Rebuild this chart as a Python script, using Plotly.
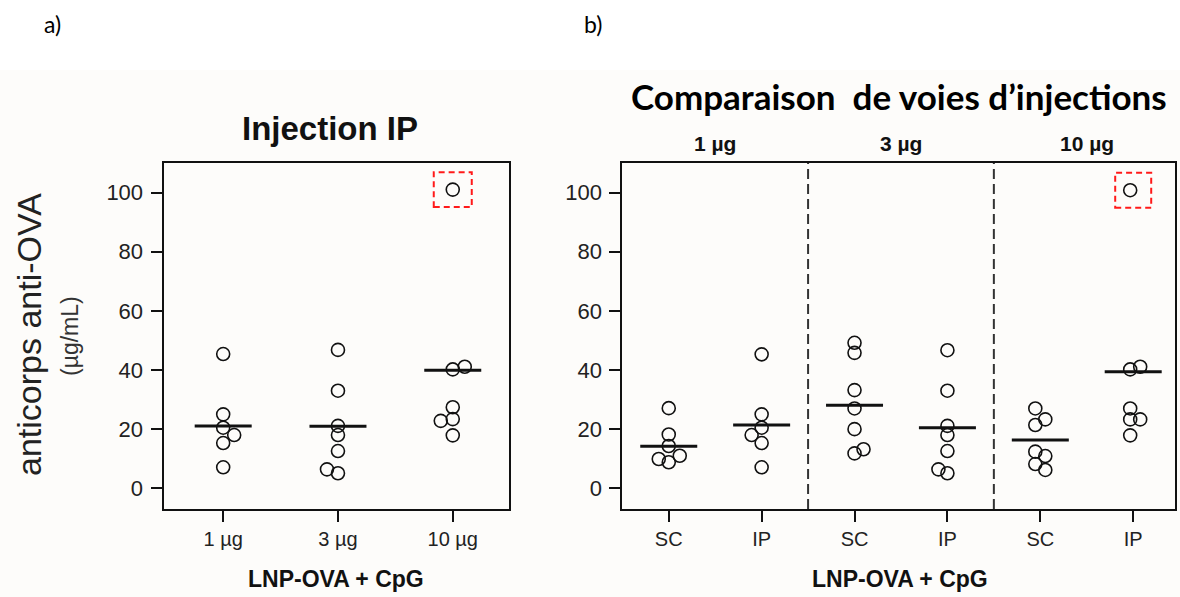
import plotly.graph_objects as go

W, H = 1180, 597

# ---------------- data ----------------
a_categories = ["1 µg", "3 µg", "10 µg"]
a_1ug = [45.4, 25.0, 20.5, 18.0, 15.3, 7.1]
a_3ug = [46.8, 33.0, 21.1, 18.0, 12.6, 6.4, 5.1]
a_10ug = [101.0, 41.1, 40.2, 27.4, 23.4, 22.8, 17.9]
a_means = [21.1, 21.0, 39.9]

b_routes = ["SC", "IP", "SC", "IP", "SC", "IP"]
b_doses = ["1 µg", "3 µg", "10 µg"]
b_sc_1ug = [27.1, 18.2, 14.3, 11.0, 9.9, 8.8]
b_ip_1ug = [45.3, 25.0, 20.5, 18.0, 15.3, 7.1]
b_sc_3ug = [49.2, 45.8, 33.2, 27.0, 20.0, 13.2, 11.8]
b_ip_3ug = [46.7, 33.0, 21.1, 18.0, 12.6, 6.4, 5.1]
b_sc_10ug = [27.0, 23.3, 21.4, 12.4, 10.9, 8.2, 6.2]
b_ip_10ug = [100.8, 41.1, 40.2, 27.0, 23.3, 23.3, 17.9]
b_means = [14.2, 21.4, 28.1, 20.5, 16.3, 39.4]

y_ticks = [0, 20, 40, 60, 80, 100]

# ---------------- layout helpers (pixel offsets, not data) ----------------
a_jitter_px = [[0, 0, 0, 11, 0, 0], [0, 0, 0, 0, 0, -11, 0], [0, 12, 0, 0, 0, -12, 0]]
b_jitter_px = [[0, 0, 0, 11, -10, 0], [0, 0, 0, -10, 0, 0], [0, 0, 0, 0, 0, 9, 0],
               [0, 0, 0, 0, 0, -9, 0], [-5, 5, -5, -5, 5, -5, 5], [-3, 7, -3, -3, -3, 7, -3]]

ax_a = dict(left=163.5, right=509.0, rng=[-0.52, 2.49])
ax_b = dict(left=622.3, right=1175.0, rng=[-0.5, 5.45])
top_px, bot_px = 163.0, 509.0
yrange = [-7, 110]


def px_per_unit(ax):
    return (ax["right"] - ax["left"]) / (ax["rng"][1] - ax["rng"][0])


fig = go.Figure()

marker = dict(symbol="circle-open", size=13, color="#111111", line=dict(width=1.6, color="#111111"))
MEAN_HALF_PX = 28.5


def add_groups(groups, jitters, means, ax, xref, yref):
    ppu = px_per_unit(ax)
    for i, (vals, jit) in enumerate(zip(groups, jitters)):
        xs = [i + j / ppu for j in jit]
        fig.add_trace(go.Scatter(x=xs, y=vals, mode="markers", marker=marker,
                                 xaxis=xref, yaxis=yref, showlegend=False, hoverinfo="y"))
    for i, m in enumerate(means):
        h = MEAN_HALF_PX / ppu
        fig.add_trace(go.Scatter(x=[i - h, i + h], y=[m, m], mode="lines",
                                 line=dict(color="#111111", width=3),
                                 xaxis=xref, yaxis=yref, showlegend=False, hoverinfo="skip"))


add_groups([a_1ug, a_3ug, a_10ug], a_jitter_px, a_means, ax_a, "x", "y")
add_groups([b_sc_1ug, b_ip_1ug, b_sc_3ug, b_ip_3ug, b_sc_10ug, b_ip_10ug],
           b_jitter_px, b_means, ax_b, "x2", "y2")

ydom = [1 - bot_px / H, 1 - top_px / H]
tickfont = dict(family="Liberation Sans, Arial, sans-serif", size=22, color="#222222")
xtickfont = dict(family="Liberation Sans, Arial, sans-serif", size=20, color="#222222")

common_y = dict(range=yrange, domain=ydom, tickvals=y_ticks, showgrid=False, zeroline=False,
                showline=True, linecolor="#111111", linewidth=2, mirror=True,
                ticks="outside", ticklen=11, tickwidth=2, tickcolor="#111111",
                tickfont=tickfont, ticklabelstandoff=3)
common_x = dict(showgrid=False, zeroline=False, showline=True, linecolor="#111111",
                linewidth=2, mirror=True, ticks="outside", ticklen=11, tickwidth=2,
                tickcolor="#111111", tickfont=xtickfont, ticklabelstandoff=0)

fig.update_layout(
    width=W, height=H, margin=dict(l=0, r=0, t=0, b=0),
    paper_bgcolor="white", plot_bgcolor="#fefefe",
    xaxis=dict(domain=[ax_a["left"] / W, ax_a["right"] / W], range=ax_a["rng"],
               tickvals=list(range(len(a_categories))), ticktext=a_categories, **common_x),
    yaxis=dict(anchor="x", **common_y),
    xaxis2=dict(domain=[ax_b["left"] / W, ax_b["right"] / W], range=ax_b["rng"],
                tickvals=list(range(len(b_routes))), ticktext=b_routes, anchor="y2", **common_x),
    yaxis2=dict(anchor="x2", **common_y),
)

shapes = [
    dict(type="rect", xref="paper", yref="paper", x0=0, x1=1, y0=0, y1=1 - 70 / H,
         fillcolor="#fdfcfa", line=dict(width=0), layer="below"),
]
for sep in [1.5, 3.5]:
    shapes.append(dict(type="line", xref="x2", yref="y2 domain", x0=sep, x1=sep, y0=0, y1=1,
                       line=dict(color="#333333", width=2, dash="10px,5px")))

# red dashed boxes around the outlier (max value of the 10 µg IP groups)
box_half_y = 5.9
for xref, xi, yv, hw_px, ppu in [("x", 2, max(a_10ug), 19, px_per_unit(ax_a)),
                                 ("x2", 5, max(b_ip_10ug), 18, px_per_unit(ax_b))]:
    shapes.append(dict(type="rect", xref=xref, yref="y" if xref == "x" else "y2",
                       x0=xi - hw_px / ppu, x1=xi + hw_px / ppu,
                       y0=yv - box_half_y, y1=yv + box_half_y,
                       line=dict(color="#ff1a1a", width=2, dash="6px,4px")))
fig.update_layout(shapes=shapes)

ann = []


def A(text, x, y, size, family="Liberation Sans, Arial, sans-serif", bold=False, angle=0, color="#111111"):
    t = f"<b>{text}</b>" if bold else text
    ann.append(dict(text=t, x=x / W, y=1 - y / H, xref="paper", yref="paper", showarrow=False,
                    xanchor="center", yanchor="middle", textangle=angle,
                    font=dict(family=family, size=size, color=color)))


A("a)", 52, 24, 23, family="Lato, sans-serif", color="#000000")
A("b)", 593, 24, 23, family="Lato, sans-serif", color="#000000")
A("Injection IP", 330, 128, 33, bold=True)
A("Comparaison\u00a0 de voies d\u2019injections", 899, 96, 35, family="Lato, sans-serif", bold=True, color="#000000")
for i, d in enumerate(b_doses):
    cx = ax_b["left"] + (2 * i + 0.5 - ax_b["rng"][0]) * px_per_unit(ax_b)
    A(d, cx, 144, 21, bold=True)
A("LNP-OVA + CpG", 336, 579, 23, bold=True)
A("LNP-OVA + CpG", 900, 579, 23, bold=True)
A("anticorps anti-OVA", 29, 335, 34, angle=-90, color="#222222")
A("(µg/mL)", 70, 336, 23, angle=-90, color="#333333")
fig.update_layout(annotations=ann)

fig.write_html("out.html", config={"displayModeBar": False},
               post_script="document.body.style.margin='0';document.body.style.overflow='hidden';")
